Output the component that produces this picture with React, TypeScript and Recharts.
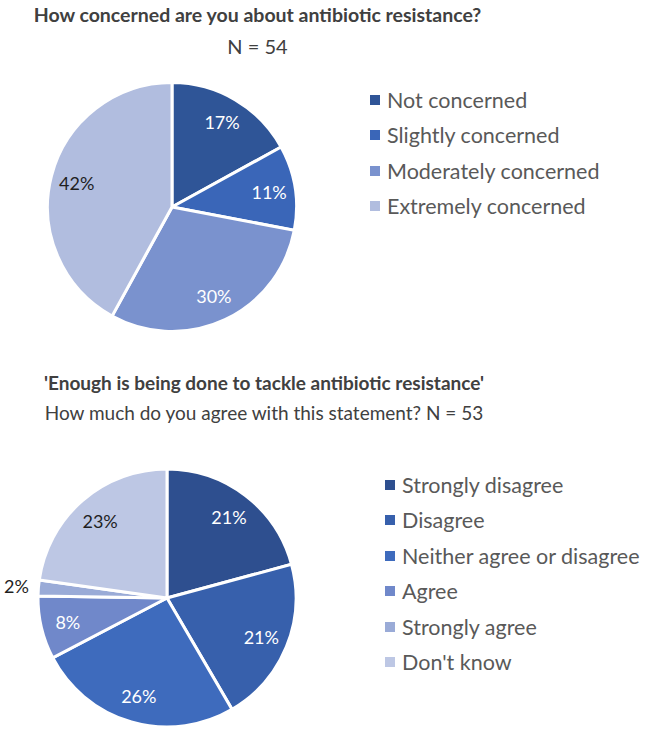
import React from 'react';
import { PieChart, Pie, Cell, Legend } from 'recharts';

// top chart: how concerned (N = 54)
const concernLabels = ['Not concerned', 'Slightly concerned', 'Moderately concerned', 'Extremely concerned'];
const concernValues = [17, 11, 30, 42];
const concernColors = ['#2F5597', '#3A66B8', '#7A92CE', '#B1BDDF'];

// bottom chart: agreement (N = 53)
const agreeLabels = ['Strongly disagree', 'Disagree', 'Neither agree or disagree', 'Agree', 'Strongly agree', "Don't know"];
const agreeValues = [21, 21, 26, 8, 2, 23];
const agreeColors = ['#2E4F8F', '#3760AC', '#3E6BBD', '#7088CA', '#9AABD7', '#BDC7E4'];

const FONT = 'Lato, "Noto Sans", sans-serif';
const RADIAN = Math.PI / 180;

const makeLabel = (lightIndex: number) => (props: any) => {
  const { cx, cy, midAngle, outerRadius, value, index, percent } = props;
  const outside = percent < 0.05;
  const r = outside ? outerRadius + 22 : outerRadius * 0.79;
  const x = cx + r * Math.cos(-midAngle * RADIAN);
  const y = cy + r * Math.sin(-midAngle * RADIAN);
  const dark = outside || index === lightIndex;
  return (
    <text
      x={x}
      y={y}
      fill={dark ? '#1f1f1f' : '#ffffff'}
      textAnchor="middle"
      dominantBaseline="central"
      fontSize={18}
      fontFamily={FONT}
    >
      {`${value}%`}
    </text>
  );
};

// legend keeps the data order (recharts would sort it by name otherwise)
const makeLegend = (labels: string[], colors: string[]) => () => (
  <ul style={{ listStyle: 'none', margin: 0, padding: 0 }}>
    {labels.map((name, i) => (
      <li
        key={name}
        style={{ display: 'flex', alignItems: 'center', height: 35.5, fontFamily: FONT, fontSize: 21.5, color: '#595959' }}
      >
        <span style={{ display: 'inline-block', width: 10, height: 10, background: colors[i], marginRight: 7 }} />
        <span>{name}</span>
      </li>
    ))}
  </ul>
);

const concernData = concernLabels.map((name, i) => ({ name, value: concernValues[i] }));
const agreeData = agreeLabels.map((name, i) => ({ name, value: agreeValues[i] }));

const titleStyle: React.CSSProperties = {
  position: 'absolute',
  left: 0,
  width: 515,
  textAlign: 'center',
  fontFamily: FONT,
  color: '#404040',
  whiteSpace: 'nowrap',
};

export default function App() {
  return (
    <div style={{ position: 'absolute', top: 0, left: 0, width: 650, height: 729, background: '#fff', overflow: 'hidden' }}>
      <div style={{ ...titleStyle, top: 2, fontSize: 19.5, fontWeight: 700, lineHeight: '26px' }}>
        How concerned are you about antibiotic resistance?
      </div>
      <div style={{ ...titleStyle, top: 33, fontSize: 20, lineHeight: '26px' }}>N = 54</div>

      <div style={{ position: 'absolute', top: 0, left: 0 }}>
        <PieChart width={650} height={360}>
          <Pie
            data={concernData}
            dataKey="value"
            nameKey="name"
            cx={167}
            cy={202}
            outerRadius={124.5}
            startAngle={90}
            endAngle={-270}
            stroke="#ffffff"
            strokeWidth={3}
            label={makeLabel(3)}
            labelLine={false}
            isAnimationActive={false}
          >
            {concernData.map((d, i) => (
              <Cell key={d.name} fill={concernColors[i]} />
            ))}
          </Pie>
          <Legend
            layout="vertical"
            verticalAlign="top"
            align="right"
            content={makeLegend(concernLabels, concernColors)}
            wrapperStyle={{ top: 82, left: 370, width: 275 }}
          />
        </PieChart>
      </div>

      <div style={{ ...titleStyle, top: 370, width: 528, fontSize: 19, fontWeight: 700, lineHeight: '26px' }}>
        'Enough is being done to tackle antibiotic resistance'
      </div>
      <div style={{ ...titleStyle, top: 400, width: 528, fontSize: 19, lineHeight: '26px' }}>
        How much do you agree with this statement? N = 53
      </div>

      <div style={{ position: 'absolute', top: 360, left: 0 }}>
        <PieChart width={650} height={369}>
          <Pie
            data={agreeData}
            dataKey="value"
            nameKey="name"
            cx={162}
            cy={233}
            outerRadius={129}
            startAngle={90}
            endAngle={-270}
            stroke="#ffffff"
            strokeWidth={3}
            label={makeLabel(5)}
            labelLine={false}
            isAnimationActive={false}
          >
            {agreeData.map((d, i) => (
              <Cell key={d.name} fill={agreeColors[i]} />
            ))}
          </Pie>
          <Legend
            layout="vertical"
            verticalAlign="top"
            align="right"
            content={makeLegend(agreeLabels, agreeColors)}
            wrapperStyle={{ top: 107, left: 385, width: 265 }}
          />
        </PieChart>
      </div>
    </div>
  );
}
